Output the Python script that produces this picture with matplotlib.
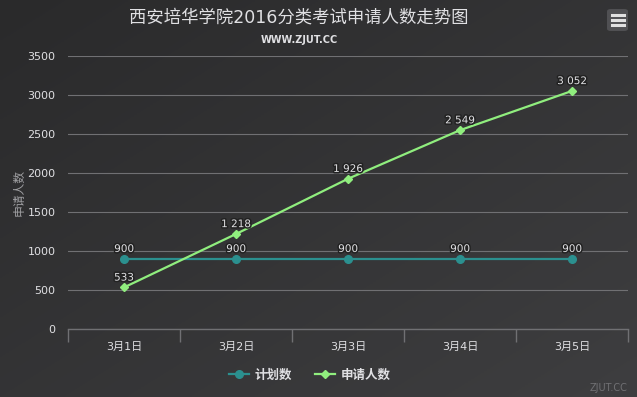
import numpy as np
import matplotlib
matplotlib.use('Agg')
import matplotlib.pyplot as plt
import matplotlib.patheffects as pe
from matplotlib.patches import FancyBboxPatch

plt.rcParams['font.family'] = ['DejaVu Sans', 'Noto Sans CJK SC']

categories = ['3月1日', '3月2日', '3月3日', '3月4日', '3月5日']
plan = [900, 900, 900, 900, 900]
applicants = [533, 1218, 1926, 2549, 3052]
series_names = ['计划数', '申请人数']
colors = ['#2b908f', '#90ee7e']

def fmt(v):
    # Highcharts style thousands separator (space)
    return '{:,}'.format(v).replace(',', ' ')

fig = plt.figure(figsize=(6.37, 3.97), dpi=100)

# background gradient
bg = fig.add_axes([0, 0, 1, 1], zorder=-10)
gx, gy = np.meshgrid(np.linspace(0, 1, 200), np.linspace(0, 1, 200))
g = (gx + gy) / 2
c0 = np.array([0x2a, 0x2a, 0x2b]) / 255
c1 = np.array([0x3e, 0x3e, 0x40]) / 255
img = c0[None, None, :] * (1 - g[..., None]) + c1[None, None, :] * g[..., None]
bg.imshow(img, aspect='auto', extent=[0, 1, 0, 1], origin='upper')
bg.axis('off')

ax = fig.add_axes([68 / 637, 1 - 329 / 397, 560 / 637, 273 / 397])
ax.set_facecolor('none')
x = np.arange(len(categories))

ax.plot(x, plan, color=colors[0], lw=1.6, marker='o', ms=5.5, label=series_names[0], zorder=3)
ax.plot(x, applicants, color=colors[1], lw=1.6, marker='D', ms=4, label=series_names[1], zorder=3)

outline = [pe.withStroke(linewidth=2.2, foreground='#222222')]
for xi, v in zip(x, plan):
    ax.annotate(fmt(v), (xi, v), xytext=(0, 3.5), textcoords='offset points',
                ha='center', va='bottom', color='#e0e0e3', fontsize=7.5,
                path_effects=outline, zorder=4)
for xi, v in zip(x, applicants):
    ax.annotate(fmt(v), (xi, v), xytext=(0, 3.5), textcoords='offset points',
                ha='center', va='bottom', color='#e0e0e3', fontsize=7.5,
                path_effects=outline, zorder=4)

ax.set_xlim(-0.5, len(categories) - 0.5)
ax.set_ylim(0, 3500)
ax.set_yticks(np.arange(0, 3501, 500))
ax.yaxis.grid(True, color='#707073', lw=0.8)
ax.set_axisbelow(True)
for s in ['top', 'right', 'left']:
    ax.spines[s].set_visible(False)
ax.spines['bottom'].set_color('#707073')
ax.spines['bottom'].set_linewidth(1)
ax.tick_params(axis='y', length=0, colors='#e0e0e3', labelsize=8, pad=9)
ax.set_xticks(x)
ax.set_xticklabels(categories)
ax.set_xticks(np.arange(-0.5, len(categories)), minor=True)
ax.tick_params(axis='x', which='major', length=0, colors='#e0e0e3', labelsize=8, pad=9)
ax.tick_params(axis='x', which='minor', length=9, color='#707073', width=1)
ax.set_ylabel('申请人数', color='#a0a0a3', fontsize=8.5, labelpad=1)

fig.text(299 / 637, 1 - 18 / 397, '西安培华学院2016分类考试申请人数走势图', ha='center', va='center',
         color='#e0e0e3', fontsize=12.5)
fig.text(299 / 637, 1 - 40 / 397, 'WWW.ZJUT.CC', ha='center', va='center',
         color='#e0e0e3', fontsize=7, weight='bold')

leg = ax.legend(loc='center', bbox_to_anchor=(310 / 637, 1 - 375 / 397),
                bbox_transform=fig.transFigure, ncol=2, frameon=False,
                prop={'size': 9, 'weight': 'bold'}, handlelength=1.6,
                columnspacing=1.8, handletextpad=0.5)
for t in leg.get_texts():
    t.set_color('#e0e0e3')

fig.text(628 / 637, 1 - 388 / 397, 'ZJUT.CC', ha='right', va='center',
         color='#707073', fontsize=7)

# export menu button
btn = FancyBboxPatch((607 / 637, 1 - 31 / 397), 21 / 637, 22 / 397,
                     boxstyle='round,pad=0,rounding_size=0.006',
                     transform=fig.transFigure, facecolor='#505053',
                     edgecolor='none')
fig.add_artist(btn)
for yy in [15, 20, 25]:
    fig.add_artist(plt.Line2D([611.5 / 637, 623.5 / 637], [1 - yy / 397] * 2,
                              transform=fig.transFigure, color='#e0e0e0', lw=2.2))

fig.savefig('out.png', dpi=100)
